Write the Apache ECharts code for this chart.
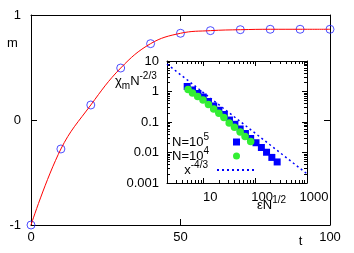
<!DOCTYPE html>
<html><head><meta charset="utf-8">
<script src="https://cdn.jsdelivr.net/npm/echarts@6/dist/echarts.min.js"></script>
<style>html,body{margin:0;padding:0;background:#fff}#c{width:354px;height:253px}</style>
</head><body><div id="c"></div>
<script>
// ---- main plot data ----
const tValues = [0, 10, 20, 30, 40, 50, 60, 70, 80, 90, 100];
const mValues = [-1, -0.276, 0.143, 0.495, 0.727, 0.826, 0.851, 0.86, 0.864, 0.864, 0.864];
const mainXTicks = [0, 50, 100];
const mainYTicks = [-1, 0, 1];
// ---- inset data ----
const epsN5 = [4.9, 6.2, 7.9, 10, 12.6, 15.9, 20, 25.5, 32, 40.7, 51.5, 65, 82, 104, 132, 166, 210, 266];
const chiN5 = [1.46, 1.12, 0.86, 0.66, 0.47, 0.335, 0.242, 0.176, 0.116, 0.084, 0.059, 0.042, 0.0288, 0.0209, 0.0146, 0.0102, 0.0069, 0.0049];
const epsN4 = [5.1, 6.2, 7.8, 9.9, 12.6, 15.9, 20, 25, 31.6, 40, 51.5, 64, 82];
const chiN4 = [1.16, 0.89, 0.685, 0.526, 0.375, 0.267, 0.193, 0.141, 0.0927, 0.067, 0.047, 0.0335, 0.023];
const powerLawX = [2, 1000];
const powerLawY = [7.94, 0.002];
const insetXMinor = [3,4,5,6,7,8,9,20,30,40,50,60,70,80,90,200,300,400,500,600,700,800,900];
const insetYMinor = [0.002,0.003,0.004,0.005,0.006,0.007,0.008,0.009,0.02,0.03,0.04,0.05,0.06,0.07,0.08,0.09,0.2,0.3,0.4,0.5,0.6,0.7,0.8,0.9,2,3,4,5,6,7,8,9];
const legendNames = ['N5', 'N4', 'pl'];
const legendTexts = {N5: '{a|N=10}{p|5}', N4: '{a|N=10}{p|4}', pl: '{a|x}{p|-4/3}'};

const FONT = 'Liberation Sans';
const LS = {color: '#000', width: 1};
const zip = (a, b) => a.map((v, i) => [v, b[i]]);
const rich = {
  a: {fontSize: 13, fontFamily: FONT, color: '#000', lineHeight: 20, verticalAlign: 'middle'},
  p: {fontSize: 10, fontFamily: FONT, color: '#000', lineHeight: 20, verticalAlign: 'top'},
  s: {fontSize: 10, fontFamily: FONT, color: '#000', lineHeight: 20, verticalAlign: 'bottom'}
};
const plainNum = v => String(v);

function ax(extra, tickLen, labelCfg, tickCfg) {
  return Object.assign({
    axisLine: {show: true, onZero: false, lineStyle: LS},
    splitLine: {show: false},
    axisLabel: labelCfg ? Object.assign({show: true, fontFamily: FONT, fontSize: 13, color: '#000'}, labelCfg) : {show: false},
    axisTick: Object.assign({show: true, inside: true, length: tickLen, lineStyle: LS}, tickCfg || {})
  }, extra);
}
const mainX = {type: 'value', gridIndex: 0, min: mainXTicks[0], max: mainXTicks[2], interval: mainXTicks[1] - mainXTicks[0]};
const mainY = {type: 'value', gridIndex: 0, min: mainYTicks[0], max: mainYTicks[2], interval: mainYTicks[1] - mainYTicks[0]};
const inX = {type: 'log', logBase: 10, gridIndex: 1, min: 2, max: 1000};
const inY = {type: 'log', logBase: 10, gridIndex: 1, min: 0.001, max: 10};

const xAxis = [
  ax(Object.assign({position: 'bottom'}, mainX), 6, {margin: 6}),
  ax(Object.assign({position: 'top'}, mainX), 6, null),
  ax(Object.assign({position: 'bottom'}, inX), 5, {margin: 8, showMinLabel: false, padding: [0, 0, 0, 14], formatter: plainNum}),
  ax(Object.assign({position: 'bottom'}, inX), 3, null, {customValues: insetXMinor}),
  ax(Object.assign({position: 'top'}, inX), 5, null),
  ax(Object.assign({position: 'top'}, inX), 3, null, {customValues: insetXMinor})
];
xAxis[3].axisLine = {show: false}; xAxis[5].axisLine = {show: false};
const yAxis = [
  ax(Object.assign({position: 'left'}, mainY), 6, {margin: 10}),
  ax(Object.assign({position: 'right'}, mainY), 6, null),
  ax(Object.assign({position: 'left'}, inY), 5, {margin: 8, formatter: plainNum}),
  ax(Object.assign({position: 'left'}, inY), 3, null, {customValues: insetYMinor}),
  ax(Object.assign({position: 'right'}, inY), 5, null),
  ax(Object.assign({position: 'right'}, inY), 3, null, {customValues: insetYMinor})
];
yAxis[3].axisLine = {show: false}; yAxis[5].axisLine = {show: false};

const legendTops = [132, 146, 160];
const legend = legendNames.map((n, i) => {
  const isLine = n === 'pl';
  const l = {
    data: [n], orient: 'vertical', align: 'right', right: isLine ? 99 : 114, top: legendTops[i], padding: 0,
    itemWidth: isLine ? 37 : 7, itemHeight: 7, selectedMode: false,
    formatter: nm => legendTexts[nm],
    textStyle: {fontFamily: FONT, fontSize: 13, color: '#000', rich: rich, padding: [0, isLine ? 4 : 19, 0, 0]}
  };
  if (isLine) l.itemStyle = {opacity: 0};
  return l;
});

const chart = echarts.init(document.getElementById('c'), null, {renderer: 'canvas'});
chart.setOption({
  animation: false,
  backgroundColor: '#fff',
  grid: [
    {left: 31, top: 15, right: 24, bottom: 28, containLabel: false},
    {left: 167, top: 61, width: 140, height: 122, show: true, backgroundColor: '#fff', borderWidth: 0}
  ],
  xAxis: xAxis,
  yAxis: yAxis,
  legend: legend,
  series: [
    {type: 'line', xAxisIndex: 0, yAxisIndex: 0, data: zip(tValues, mValues), smooth: 0.4, showSymbol: false,
      lineStyle: {color: '#ff0000', width: 1}, silent: true},
    {type: 'scatter', xAxisIndex: 0, yAxisIndex: 0, data: zip(tValues, mValues), symbol: 'circle', symbolSize: 8,
      itemStyle: {color: 'rgba(0,0,0,0)', borderColor: '#2222ff', borderWidth: 1}},
    {name: 'N5', type: 'scatter', xAxisIndex: 2, yAxisIndex: 2, data: zip(epsN5, chiN5), symbol: 'rect', symbolSize: 7,
      itemStyle: {color: '#0000ff', opacity: 1}},
    {name: 'N4', type: 'scatter', xAxisIndex: 2, yAxisIndex: 2, data: zip(epsN4, chiN4), symbol: 'circle', symbolSize: 7.5,
      itemStyle: {color: '#33ee33', opacity: 1}},
    {name: 'pl', type: 'line', xAxisIndex: 2, yAxisIndex: 2, data: zip(powerLawX, powerLawY), symbol: 'none',
      lineStyle: {color: '#0000ff', width: 1.5, type: [2, 3]}, itemStyle: {color: '#0000ff'}}
  ],
  graphic: [
    {type: 'text', x: 12.5, y: 43, style: {text: 'm', font: '13px "Liberation Sans"', fill: '#000', align: 'center', verticalAlign: 'middle'}},
    {type: 'text', x: 300.5, y: 241, style: {text: 't', font: '13px "Liberation Sans"', fill: '#000', align: 'center', verticalAlign: 'middle'}},
    {type: 'text', x: 115, y: 81, style: {text: '{a|χ}{s|m}{a|N}{p|-2/3}', rich: rich, align: 'left', verticalAlign: 'middle'}},
    {type: 'text', x: 257, y: 205, style: {text: '{a|εN}{p|1/2}', rich: rich, align: 'left', verticalAlign: 'middle'}}
  ]
});
</script></body></html>
